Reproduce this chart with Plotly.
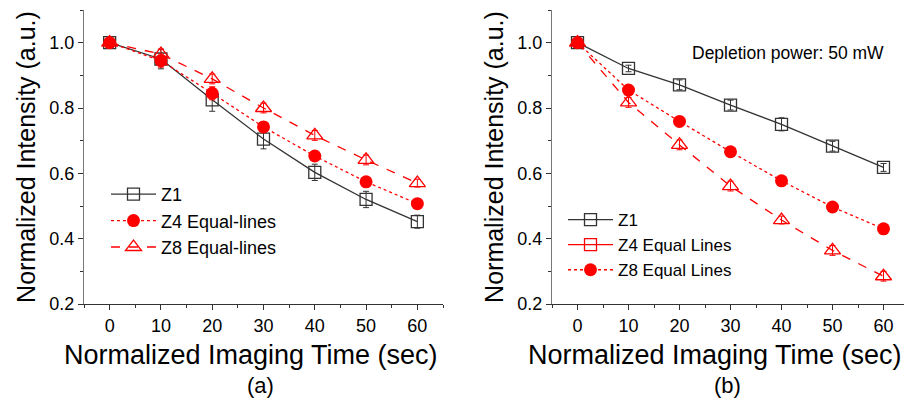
import plotly.graph_objects as go

# imaging time (sec)
times = [0, 10, 20, 30, 40, 50, 60]

# panel (a)
a_z1 = [1.0, 0.950, 0.825, 0.705, 0.603, 0.520, 0.452]
a_z1_err = [0.01, 0.03, 0.035, 0.03, 0.025, 0.025, 0.02]
a_z4 = [1.0, 0.945, 0.845, 0.742, 0.653, 0.574, 0.507]
a_z4_err = [0.01, 0.02, 0.02, 0.015, 0.015, 0.015, 0.015]
a_z8 = [1.0, 0.965, 0.889, 0.800, 0.716, 0.641, 0.570]
a_z8_err = [0.01, 0.015, 0.015, 0.015, 0.015, 0.015, 0.012]

# panel (b)
b_z1 = [1.0, 0.921, 0.871, 0.809, 0.750, 0.683, 0.618]
b_z1_err = [0.01, 0.01, 0.015, 0.015, 0.02, 0.015, 0.012]
b_circ = [1.0, 0.855, 0.759, 0.666, 0.577, 0.497, 0.430]
b_circ_err = [0.01, 0.01, 0.01, 0.01, 0.01, 0.01, 0.01]
b_tri = [1.0, 0.817, 0.687, 0.561, 0.457, 0.364, 0.285]
b_tri_err = [0.01, 0.015, 0.015, 0.015, 0.012, 0.015, 0.015]

legend_a = ['Z1', 'Z4 Equal-lines', 'Z8 Equal-lines']
legend_b = ['Z1', 'Z4 Equal Lines', 'Z8 Equal Lines']

RED = '#ff0000'
BLK = '#333333'
FONT = 'Liberation Sans, Arial, sans-serif'

# page body has an 8px margin, so the figure is drawn 8px in from the corner
W, H = 904, 396


def px(x):
    return (x - 8) / W


def py(y):
    return 1 - (y - 8) / H


def err(vals, color):
    return dict(type='data', array=vals, visible=True, color=color, thickness=1, width=3)


def note(text, x, y, size):
    return dict(text=text, x=px(x), y=py(y), xref='paper', yref='paper',
                xanchor='center', yanchor='middle', showarrow=False,
                font=dict(size=size, family=FONT, color='black'))


fig = go.Figure()

# ---- panel (a)
fig.add_trace(go.Scatter(
    x=times, y=a_z1, error_y=err(a_z1_err, BLK), name=legend_a[0], legend='legend',
    mode='lines+markers', line=dict(color=BLK, width=1.3),
    marker=dict(symbol='square-open', size=12, color=BLK, line=dict(width=1.3)),
    xaxis='x', yaxis='y'))
fig.add_trace(go.Scatter(
    x=times, y=a_z4, error_y=err(a_z4_err, RED), name=legend_a[1], legend='legend',
    mode='lines+markers', line=dict(color=RED, width=1.3, dash='dot'),
    marker=dict(symbol='circle', size=13, color=RED),
    xaxis='x', yaxis='y'))
fig.add_trace(go.Scatter(
    x=times, y=a_z8, error_y=err(a_z8_err, RED), name=legend_a[2], legend='legend',
    mode='lines+markers', line=dict(color=RED, width=1.3, dash='dash'),
    marker=dict(symbol='triangle-up-open', size=14, color=RED, line=dict(width=1.3)),
    xaxis='x', yaxis='y'))

# ---- panel (b)
fig.add_trace(go.Scatter(
    x=times, y=b_z1, error_y=err(b_z1_err, BLK), name=legend_b[0], legend='legend2',
    mode='lines+markers', line=dict(color=BLK, width=1.3),
    marker=dict(symbol='square-open', size=12, color=BLK, line=dict(width=1.3)),
    xaxis='x2', yaxis='y2'))
# legend-only entry (the original legend shows a red square on a solid line)
fig.add_trace(go.Scatter(
    x=[None], y=[None], name=legend_b[1], legend='legend2',
    mode='lines+markers', line=dict(color=RED, width=1.3),
    marker=dict(symbol='square-open', size=12, color=RED, line=dict(width=1.3)),
    xaxis='x2', yaxis='y2'))
fig.add_trace(go.Scatter(
    x=times, y=b_circ, error_y=err(b_circ_err, RED), name=legend_b[2], legend='legend2',
    mode='lines+markers', line=dict(color=RED, width=1.3, dash='dot'),
    marker=dict(symbol='circle', size=13, color=RED),
    xaxis='x2', yaxis='y2'))
fig.add_trace(go.Scatter(
    x=times, y=b_tri, error_y=err(b_tri_err, RED), showlegend=False,
    mode='lines+markers', line=dict(color=RED, width=1.3, dash='dash'),
    marker=dict(symbol='triangle-up-open', size=14, color=RED, line=dict(width=1.3)),
    xaxis='x2', yaxis='y2'))

xdom_a = [px(84), px(443)]
xdom_b = [px(552), px(909)]
ydom = [py(304), py(10)]

xbase = dict(range=[-5, 65], tick0=0, dtick=10, ticks='outside', ticklen=5, tickwidth=1,
             tickcolor=BLK, showline=True, linecolor=BLK, linewidth=1.3, showgrid=False,
             zeroline=False, automargin=False,
             tickfont=dict(size=18, color='black', family=FONT),
             minor=dict(dtick=5, ticks='outside', ticklen=3, tickcolor=BLK))
ybase = dict(range=[0.2, 1.1], tick0=0.2, dtick=0.2, tickformat='.1f', ticks='outside',
             ticklen=5, tickwidth=1, tickcolor=BLK, showline=True, linecolor='#777777',
             linewidth=1.3, showgrid=False, zeroline=False, automargin=False,
             tickfont=dict(size=18, color='black', family=FONT),
             minor=dict(dtick=0.1, ticks='outside', ticklen=3, tickcolor=BLK),
             title=dict(text='Normalized Intensity (a.u.)', standoff=6,
                        font=dict(size=25, color='black', family=FONT)))
xmirror = dict(range=[-5, 65], tick0=0, dtick=10, ticks='inside', ticklen=5, tickcolor='#777777',
               showline=True, linecolor=BLK, linewidth=1.3, showticklabels=False,
               showgrid=False, zeroline=False, side='top', automargin=False,
               minor=dict(dtick=5, ticks='inside', ticklen=3, tickcolor=BLK))
ymirror = dict(range=[0.2, 1.1], tick0=0.2, dtick=0.2, ticks='inside', ticklen=5,
               tickcolor='#777777', showline=True, linecolor='#777777', linewidth=1.3,
               showticklabels=False, showgrid=False, zeroline=False, side='right',
               automargin=False,
               minor=dict(dtick=0.1, ticks='inside', ticklen=3, tickcolor=BLK))

fig.update_layout(
    width=W, height=H,
    margin=dict(l=0, r=0, t=0, b=0),
    paper_bgcolor='white', plot_bgcolor='white',
    font=dict(family=FONT, color='black'),
    xaxis=dict(xbase, domain=xdom_a, anchor='y'),
    yaxis=dict(ybase, domain=ydom, anchor='x'),
    xaxis2=dict(xbase, domain=xdom_b, anchor='y2'),
    yaxis2=dict(ybase, domain=ydom, anchor='x2'),
    xaxis3=dict(xmirror, overlaying='x', anchor='y'),
    yaxis3=dict(ymirror, overlaying='y', anchor='x'),
    xaxis4=dict(xmirror, overlaying='x2', anchor='y2'),
    yaxis4=dict(ymirror, overlaying='y2', anchor='x2'),
    legend=dict(x=px(106), y=py(176), xanchor='left', yanchor='top',
                bgcolor='rgba(0,0,0,0)', tracegroupgap=0, itemwidth=45,
                font=dict(size=18, family=FONT, color='black')),
    legend2=dict(x=px(563), y=py(202), xanchor='left', yanchor='top',
                 bgcolor='rgba(0,0,0,0)', tracegroupgap=0, itemwidth=45,
                 font=dict(size=17, family=FONT, color='black')),
    annotations=[
        note('Depletion power: 50 mW', 788, 53, 17.5),
        note('Normalized Imaging Time (sec)', 251, 355, 27),
        note('Normalized Imaging Time (sec)', 715, 355, 27),
        note('(a)', 260, 385, 22),
        note('(b)', 727, 385, 22),
    ],
)

fig.write_html("out.html")
